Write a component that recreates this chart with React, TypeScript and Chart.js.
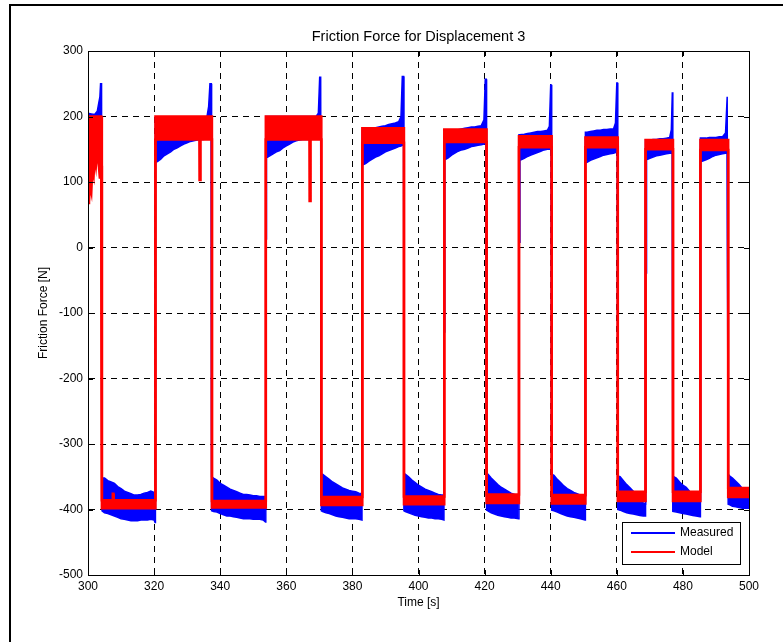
import React, { useEffect, useRef } from 'react';
import { Chart, registerables } from 'chart.js';

Chart.register(...registerables);

const FONT = '"Liberation Sans", Arial, Helvetica, sans-serif';

const titleText = 'Friction Force for Displacement 3';
const xLabel = 'Time [s]';
const yLabel = 'Friction Force [N]';
const seriesNames = ['Measured', 'Model'];
const seriesColors = ['#0000ff', '#ff0000'];

const xTickValues = [300, 320, 340, 360, 380, 400, 420, 440, 460, 480, 500];
const yTickValues = [-500, -400, -300, -200, -100, 0, 100, 200, 300];

// Measured signal: envelope (upper / lower) of the noisy trace
const measuredTime = [
  300, 301, 302, 302.8, 303.3, 303.6, 303.8, 304.1,
  304.25, 305, 306, 307, 308, 309, 310, 311, 312, 313, 314, 315, 316, 317, 318, 319, 320, 320.3,
  320.4, 321, 322, 323, 324, 325, 326, 327, 328, 329, 330, 331, 332, 333, 334, 335, 336, 336.5, 336.9, 337.3,
  337.4, 338, 339, 340, 341, 342, 343, 344, 345, 346, 347, 348, 349, 350, 351, 352, 353, 353.7,
  353.8, 353.9, 354.0, 355, 356, 357, 358, 359, 360, 361, 362, 363, 364, 365, 366, 367, 368, 369, 369.7, 370.1, 370.4,
  370.6, 371, 372, 373, 374, 375, 376, 377, 378, 379, 380, 381, 382, 382.9,
  383.0, 384, 385, 386, 387, 388, 389, 390, 391, 392, 393, 394, 394.7, 395.1, 395.5,
  395.6, 396, 397, 398, 399, 400, 401, 402, 403, 404, 405, 406, 407, 407.7,
  407.8, 407.9, 408.0, 409, 410, 411, 412, 413, 414, 415, 416, 417, 418, 419, 419.8, 420.2, 420.5,
  420.6, 421, 422, 423, 424, 425, 426, 427, 428, 429, 430.3,
  430.4, 430.55, 430.7, 432, 433, 434, 435, 436, 437, 438, 439, 439.6, 440.0, 440.2,
  440.3, 441, 442, 443, 444, 445, 446, 447, 448, 449, 450.4,
  450.5, 451, 452, 453, 454, 455, 456, 457, 458, 459, 459.6, 460.0, 460.2,
  460.3, 461, 462, 463, 464, 465, 466, 467, 468, 468.6,
  468.7, 468.85, 469.0, 470, 471, 472, 473, 474, 475, 476, 476.5, 476.8, 476.9,
  477.0, 478, 479, 480, 481, 482, 483, 484, 485.2,
  485.3, 486, 487, 488, 489, 490, 491, 492, 492.9, 493.4, 493.6,
  493.7, 494.2, 495, 496, 497, 498, 499, 500,
];
const measuredUpper = [
  205, 204, 203, 208, 222, 230, 250, 250,
  -352, -352, -356, -358, -360, -365, -368, -372, -374, -376, -378, -378, -377, -375, -374, -372, -374, -374,
  198, 198, 198, 198, 198, 198, 198, 198, 198, 198, 198, 198, 198, 198, 198, 198, 200, 215, 250, 250,
  -350, -352, -355, -360, -363, -366, -369, -371, -373, -375, -377, -377, -378, -379, -379, -380, -380, -380,
  200, 200, 200, 200, 200, 200, 200, 200, 200, 200, 200, 200, 200, 200, 200, 200, 200, 200, 205, 260, 260,
  -346, -346, -350, -354, -358, -361, -364, -367, -369, -371, -372, -373, -375, -376,
  179, 180, 181, 182, 183, 184, 185, 186, 188, 189, 190, 192, 200, 261, 261,
  -345, -346, -350, -355, -359, -363, -366, -369, -371, -373, -375, -377, -378, -378,
  174, 174, 174, 175, 177, 178, 180, 181, 182, 183, 184, 184, 185, 186, 195, 257, 257,
  -345, -346, -352, -357, -362, -366, -369, -372, -375, -377, -380,
  172, 172, 172, 173, 174, 175, 176, 177, 177, 178, 179, 185, 248, 248,
  -346, -348, -354, -359, -364, -368, -371, -374, -376, -378, -380,
  176, 176, 177, 178, 179, 179, 180, 180, 181, 181, 190, 251, 251,
  -349, -350, -356, -362, -367, -372, -378, -385, -390, -392,
  164, 164, 164, 164, 165, 165, 166, 166, 167, 168, 180, 237, 237,
  -349, -352, -358, -363, -366, -372, -377, -381, -385,
  167, 167, 167, 168, 168, 168, 169, 169, 175, 230, 230,
  -346, -349, -352, -357, -362, -368, -373, -377,
];
const measuredLower = [
  198, 198, 198, 198, 198, 198, 198, 196,
  -402, -405, -406, -408, -410, -412, -414, -415, -416, -417, -417, -417, -416, -416, -416, -415, -416, -420,
  130, 131, 135, 140, 143, 146, 150, 152, 155, 158, 160, 162, 163, 164, 165, 165, 166, 166, 168, 168,
  -402, -403, -404, -406, -408, -410, -410, -411, -412, -413, -414, -414, -414, -415, -415, -415, -416, -419,
  137, 13, 137, 140, 143, 146, 148, 152, 155, 158, 161, 163, 164, 165, 165, 165, 166, 166, 166, 168, 168,
  -402, -403, -405, -406, -408, -410, -411, -412, -413, -414, -414, -414, -415, -416,
  126, 128, 132, 135, 138, 140, 143, 146, 148, 150, 152, 154, 155, 156, 156,
  -402, -403, -405, -407, -409, -410, -411, -412, -413, -413, -414, -414, -415, -416,
  134, -130, 134, 137, 141, 144, 147, 149, 150, 152, 154, 155, 156, 157, 158, 158, 158,
  -401, -402, -405, -407, -409, -410, -411, -412, -413, -413, -414,
  133, 8, 133, 136, 139, 141, 143, 145, 147, 149, 150, 150, 150, 150,
  -401, -402, -404, -406, -408, -410, -411, -412, -413, -414, -416,
  129, 130, 133, 135, 137, 139, 141, 142, 143, 144, 145, 145, 145,
  -400, -401, -403, -405, -406, -407, -408, -409, -410, -410,
  134, -39, 134, 136, 138, 140, 141, 142, 143, 144, 144, 144, 144,
  -403, -404, -405, -406, -407, -408, -409, -410, -411,
  131, 132, 134, 136, 139, 141, 142, 143, 144, 144, 144,
  -392, -393, -395, -396, -397, -398, -398, -398,
];

// Model signal: envelope of its band
const modelTime = [
  300, 300.3, 300.6, 301, 301.3, 301.7, 302, 302.4, 302.8, 303.2, 303.6, 304.0, 304.2,
  304.2, 307.4, 307.5, 307.7, 307.8, 320.4,
  320.4, 333.7, 333.75, 334.0, 334.05, 337.5,
  337.5, 353.8,
  353.8, 367.0, 367.05, 367.3, 367.35, 370.6,
  370.6, 383.0,
  383.0, 395.6,
  395.6, 407.8,
  407.8, 420.6,
  420.6, 430.4,
  430.4, 440.3,
  440.3, 450.5,
  450.5, 460.3,
  460.3, 468.7,
  468.7, 477.0,
  477.0, 485.3,
  485.3, 493.7,
  493.7, 500,
];
const modelUpper = [
  200, 200, 200, 200, 200, 200, 200, 200, 200, 200, 200, 200, 200,
  -386, -386, -376, -376, -386, -386,
  200, 200, 200, 200, 200, 200,
  -387, -387,
  200, 200, 200, 200, 200, 200,
  -381, -381,
  182, 182,
  -380, -380,
  180, 180,
  -377, -377,
  170, 170,
  -378, -378,
  168, 168,
  -373, -373,
  164, 164,
  -373, -373,
  164, 164,
  -367, -367,
];
const modelLower = [
  68, 70, 95, 85, 120, 110, 140, 125, 150, 130, 105, 125, 125,
  -398, -398, -398, -398, -398, -398,
  165, 165, 103, 103, 165, 165,
  -397, -397,
  165, 165, 71, 71, 165, 165,
  -393, -393,
  160, 160,
  -392, -392,
  161, 161,
  -390, -390,
  153, 153,
  -391, -391,
  153, 153,
  -387, -387,
  150, 150,
  -387, -387,
  149, 149,
  -381, -381,
];

const toPoints = (t: number[], v: number[]) => t.map((x, i) => ({ x, y: v[i] }));

const decorPlugin = {
  id: 'decor',
  afterDraw(chart: any) {
    const { ctx, chartArea: a } = chart;
    const xs = chart.scales.x;
    const ys = chart.scales.y;
    ctx.save();
    // outer figure frame
    ctx.strokeStyle = '#000';
    ctx.lineWidth = 2;
    ctx.beginPath();
    ctx.moveTo(10, 700);
    ctx.lineTo(10, 5);
    ctx.lineTo(800, 5);
    ctx.stroke();

    // axes box
    ctx.lineWidth = 1;
    ctx.strokeRect(Math.round(a.left) + 0.5, Math.round(a.top) + 0.5, Math.round(a.right - a.left), Math.round(a.bottom - a.top));

    // inward tick marks on all four sides
    const tl = 5;
    ctx.beginPath();
    xTickValues.forEach((v) => {
      const px = Math.round(xs.getPixelForValue(v)) + 0.5;
      ctx.moveTo(px, a.bottom);
      ctx.lineTo(px, a.bottom - tl);
      ctx.moveTo(px, a.top);
      ctx.lineTo(px, a.top + tl);
    });
    yTickValues.forEach((v) => {
      const py = Math.round(ys.getPixelForValue(v)) + 0.5;
      ctx.moveTo(a.left, py);
      ctx.lineTo(a.left + tl, py);
      ctx.moveTo(a.right, py);
      ctx.lineTo(a.right - tl, py);
    });
    ctx.stroke();

    // texts
    ctx.fillStyle = '#000';
    ctx.textAlign = 'center';
    ctx.textBaseline = 'middle';
    ctx.font = `14.5px ${FONT}`;
    ctx.fillText(titleText, (a.left + a.right) / 2, 37);
    ctx.font = `12px ${FONT}`;
    ctx.fillText(xLabel, (a.left + a.right) / 2, 603);
    ctx.save();
    ctx.translate(44, (a.top + a.bottom) / 2);
    ctx.rotate(-Math.PI / 2);
    ctx.fillText(yLabel, 0, 0);
    ctx.restore();

    // legend
    const lx = 622, ly = 522, lw = 118, lh = 42;
    ctx.fillStyle = '#fff';
    ctx.fillRect(lx, ly, lw, lh);
    ctx.strokeStyle = '#000';
    ctx.lineWidth = 1;
    ctx.strokeRect(lx + 0.5, ly + 0.5, lw, lh);
    seriesNames.forEach((name, i) => {
      const y = ly + 11 + i * 19;
      ctx.strokeStyle = seriesColors[i];
      ctx.lineWidth = 2;
      ctx.beginPath();
      ctx.moveTo(631, y);
      ctx.lineTo(675, y);
      ctx.stroke();
      ctx.fillStyle = '#000';
      ctx.textAlign = 'left';
      ctx.font = `12px ${FONT}`;
      ctx.fillText(name, 680, y);
    });
    ctx.restore();
  },
};

export default function App() {
  const canvasRef = useRef<HTMLCanvasElement | null>(null);

  useEffect(() => {
    const canvas = canvasRef.current;
    if (!canvas) return;
    const chart = new Chart(canvas, {
      type: 'line',
      data: {
        datasets: [
          {
            label: 'Model upper',
            data: toPoints(modelTime, modelUpper),
            borderColor: seriesColors[1],
            backgroundColor: seriesColors[1],
            borderWidth: 2.5,
            pointRadius: 0,
            fill: '+1',
            order: 0,
          },
          {
            label: 'Model lower',
            data: toPoints(modelTime, modelLower),
            borderColor: seriesColors[1],
            backgroundColor: seriesColors[1],
            borderWidth: 2.5,
            pointRadius: 0,
            fill: false,
            order: 0,
          },
          {
            label: 'Measured upper',
            data: toPoints(measuredTime, measuredUpper),
            borderColor: seriesColors[0],
            backgroundColor: seriesColors[0],
            borderWidth: 1.5,
            pointRadius: 0,
            fill: '+1',
            order: 1,
          },
          {
            label: 'Measured lower',
            data: toPoints(measuredTime, measuredLower),
            borderColor: seriesColors[0],
            backgroundColor: seriesColors[0],
            borderWidth: 1.5,
            pointRadius: 0,
            fill: false,
            order: 1,
          },
        ],
      },
      options: {
        animation: false,
        responsive: false,
        devicePixelRatio: 1,
        layout: { padding: { left: 0, top: 51, right: 34, bottom: 47 } },
        elements: { line: { tension: 0 } },
        plugins: {
          legend: { display: false },
          title: { display: false },
          tooltip: { enabled: false },
        },
        scales: {
          x: {
            type: 'linear',
            min: 300,
            max: 500,
            afterFit: (s: any) => { s.height = 20; },
            afterBuildTicks: (s: any) => { s.ticks = xTickValues.map((v) => ({ value: v })); },
            ticks: {
              autoSkip: false,
              maxRotation: 0,
              padding: 4,
              color: '#000',
              font: { family: FONT, size: 12 },
            },
            grid: { color: '#000', lineWidth: 1, drawTicks: false },
            border: { display: true, color: '#000', width: 1, dash: [6, 5] },
          },
          y: {
            type: 'linear',
            min: -500,
            max: 300,
            afterFit: (s: any) => { s.width = 88; },
            afterBuildTicks: (s: any) => { s.ticks = yTickValues.map((v) => ({ value: v })); },
            ticks: {
              autoSkip: false,
              padding: 5,
              color: '#000',
              font: { family: FONT, size: 12 },
            },
            grid: { color: '#000', lineWidth: 1, drawTicks: false },
            border: { display: true, color: '#000', width: 1, dash: [6, 5] },
          },
        },
      },
      plugins: [decorPlugin],
    });
    return () => chart.destroy();
  }, []);

  return (
    <div style={{ position: 'absolute', left: 0, top: 0, width: 783, height: 642, background: '#fff' }}>
      <canvas ref={canvasRef} width={783} height={642} style={{ display: 'block' }} />
    </div>
  );
}
